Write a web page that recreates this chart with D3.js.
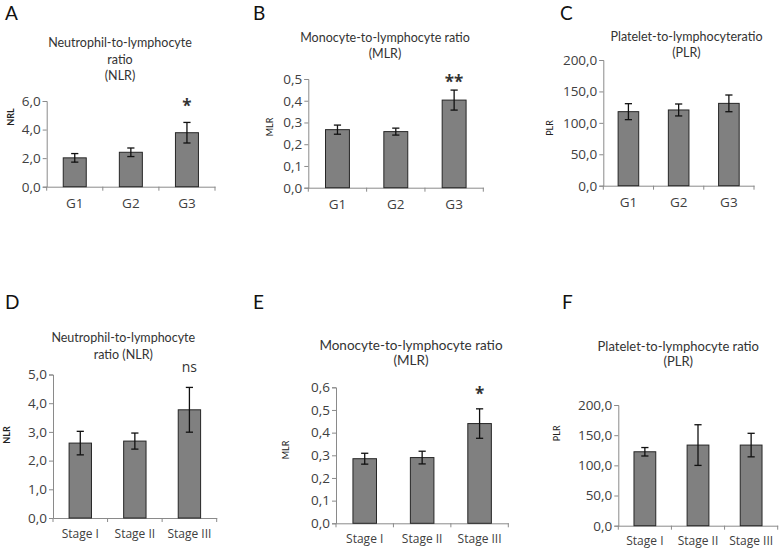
<!DOCTYPE html>
<html><head><meta charset="utf-8">
<script src="https://cdn.jsdelivr.net/npm/d3@7"></script>
<style>
html,body{margin:0;padding:0;background:#fff;}
svg{display:block;font-family:Lato,"Open Sans",sans-serif;}
</style></head>
<body><svg id="c" width="780" height="552"></svg>
<script>
// ---------- data ----------
const gGroups = ["G1", "G2", "G3"];
const stageGroups = ["Stage I", "Stage II", "Stage III"];

const nlrG = [2.02, 2.41, 3.78];
const nlrGErr = [0.30, 0.30, 0.72];
const mlrG = [0.267, 0.258, 0.403];
const mlrGErr = [0.021, 0.016, 0.046];
const plrG = [117.8, 120.5, 131.0];
const plrGErr = [12.7, 9.5, 13.3];

const nlrS = [2.61, 2.68, 3.77];
const nlrSErr = [0.41, 0.28, 0.78];
const mlrS = [0.285, 0.290, 0.440];
const mlrSErr = [0.024, 0.028, 0.065];
const plrS = [122.5, 133.6, 133.6];
const plrSErr = [7.0, 33.7, 19.5];

const nlrGTicks = [0, 2, 4, 6];
const mlrGTicks = [0, 0.1, 0.2, 0.3, 0.4, 0.5];
const plrTicks = [0, 50, 100, 150, 200];
const nlrSTicks = [0, 1, 2, 3, 4, 5];
const mlrSTicks = [0, 0.1, 0.2, 0.3, 0.4, 0.5, 0.6];

const annotG = ["*", "**", ""];          // NLR, MLR, PLR (groups, on G3)
const annotS = ["ns", "*", ""];          // NLR, MLR, PLR (stages, on Stage III)

// ---------- layout ----------
const panels = [
  {letter:"A", lx:5, ly:20, title:["Neutrophil-to-lymphocyte","ratio","(NLR)"], tx:120, ty:[47,64,80], tfs:12.5,
   ylab:"NRL", ylx:10, yly:117, ylbold:true,
   cats:gGroups, vals:nlrG, errs:nlrGErr, ticks:nlrGTicks, max:6,
   x0:46.7, x1:215, y0:186.7, y1:101, annot:annotG[0], annotAt:5.23, afs:17, abold:true},
  {letter:"B", lx:253, ly:20, title:["Monocyte-to-lymphocyte ratio","(MLR)"], tx:385, ty:[42,58], tfs:12.5,
   ylab:"MLR", ylx:269.3, yly:127, ylbold:false,
   cats:gGroups, vals:mlrG, errs:mlrGErr, ticks:mlrGTicks, max:0.5,
   x0:308.3, x1:483.3, y0:187.7, y1:79, annot:annotG[1], annotAt:0.459, afs:17, abold:true},
  {letter:"C", lx:560, ly:20, title:["Platelet-to-lymphocyteratio","(PLR)"], tx:686.5, ty:[41,57], tfs:12.5,
   ylab:"PLR", ylx:549.3, yly:128, ylbold:false,
   cats:gGroups, vals:plrG, errs:plrGErr, ticks:plrTicks, max:200,
   x0:603.3, x1:754, y0:185.7, y1:60, annot:annotG[2], annotAt:0, afs:17, abold:false},
  {letter:"D", lx:5, ly:309, title:["Neutrophil-to-lymphocyte","ratio (NLR)"], tx:123.3, ty:[342,359], tfs:12.5,
   ylab:"NLR", ylx:6.7, yly:435, ylbold:true,
   cats:stageGroups, vals:nlrS, errs:nlrSErr, ticks:nlrSTicks, max:5,
   x0:53, x1:216.7, y0:518, y1:374.5, annot:annotS[0], annotAt:5.07, afs:14, abold:false},
  {letter:"E", lx:253, ly:309, title:["Monocyte-to-lymphocyte ratio","(MLR)"], tx:411, ty:[350,365], tfs:13.5,
   ylab:"MLR", ylx:285, yly:450, ylbold:false,
   cats:stageGroups, vals:mlrS, errs:mlrSErr, ticks:mlrSTicks, max:0.6,
   x0:336, x1:508.3, y0:523.3, y1:387.3, annot:annotS[1], annotAt:0.544, afs:17, abold:true},
  {letter:"F", lx:562, ly:309, title:["Platelet-to-lymphocyte ratio","(PLR)"], tx:678.3, ty:[351,366], tfs:13,
   ylab:"PLR", ylx:556.7, yly:433.3, ylbold:false,
   cats:stageGroups, vals:plrS, errs:plrSErr, ticks:plrTicks, max:200,
   x0:618.3, x1:777.7, y0:525.7, y1:405, annot:annotS[2], annotAt:0, afs:17, abold:false}
];

const loc = d3.formatLocale({decimal:",", thousands:".", grouping:[3], currency:["",""]});
const fmt = loc.format(".1f");

const svg = d3.select("#c");
const axisColor = "#8a8a8a", textColor = "#404040";
const tickFont = "'Open Sans', Lato, sans-serif";

panels.forEach(p => {
  const g = svg.append("g");
  const x = d3.scaleBand().domain(p.cats).range([p.x0, p.x1]).padding(0);
  const y = d3.scaleLinear().domain([0, p.max]).range([p.y0, p.y1]);
  const bw = x.bandwidth() * 0.41;

  // panel letter
  g.append("text").attr("x", p.lx).attr("y", p.ly).attr("font-size", 19)
    .attr("fill", "#111").text(p.letter);

  // title
  p.title.forEach((t, i) => {
    g.append("text").attr("x", p.tx).attr("y", p.ty[i]).attr("text-anchor", "middle")
      .attr("font-size", p.tfs).attr("fill", "#333").text(t);
  });

  // y axis
  const ya = g.append("g").attr("transform", `translate(${p.x0},0)`)
    .call(d3.axisLeft(y).tickValues(p.ticks).tickFormat(fmt).tickSize(4).tickPadding(2));
  ya.select(".domain").attr("stroke", axisColor);
  ya.selectAll(".tick line").attr("stroke", axisColor);
  ya.selectAll(".tick text").attr("fill", textColor).attr("font-size", 13.5)
    .attr("font-family", tickFont);

  // x axis: labels at band centers, ticks at band boundaries
  const isStage = p.cats[0].length > 3;
  const xa = g.append("g").attr("transform", `translate(0,${p.y0})`)
    .call(d3.axisBottom(x).tickSize(0).tickPadding(isStage ? 11 : 12));
  xa.select(".domain").attr("stroke", axisColor);
  xa.selectAll(".tick text").attr("fill", textColor)
    .attr("font-size", isStage ? 12 : 13.5)
    .attr("font-family", tickFont);
  const bounds = p.cats.map(c => x(c)).concat([x(p.cats[p.cats.length - 1]) + x.bandwidth()]);
  g.selectAll(".xb").data(bounds).join("line")
    .attr("x1", d => d).attr("x2", d => d).attr("y1", p.y0).attr("y2", p.y0 + 4)
    .attr("stroke", axisColor);

  // bars
  const data = p.cats.map((c, i) => ({c, v: p.vals[i], e: p.errs[i]}));
  g.selectAll(".bar").data(data).join("rect")
    .attr("x", d => x(d.c) + x.bandwidth() / 2 - bw / 2)
    .attr("width", bw)
    .attr("y", d => y(d.v))
    .attr("height", d => y(0) - y(d.v))
    .attr("fill", "#808080").attr("stroke", "#262626").attr("stroke-width", 1);

  // error bars
  const cap = 3.6;
  const eg = g.selectAll(".err").data(data).join("g");
  eg.append("line")
    .attr("x1", d => x(d.c) + x.bandwidth() / 2).attr("x2", d => x(d.c) + x.bandwidth() / 2)
    .attr("y1", d => y(d.v + d.e)).attr("y2", d => y(d.v - d.e));
  eg.append("line")
    .attr("x1", d => x(d.c) + x.bandwidth() / 2 - cap).attr("x2", d => x(d.c) + x.bandwidth() / 2 + cap)
    .attr("y1", d => y(d.v + d.e)).attr("y2", d => y(d.v + d.e));
  eg.append("line")
    .attr("x1", d => x(d.c) + x.bandwidth() / 2 - cap).attr("x2", d => x(d.c) + x.bandwidth() / 2 + cap)
    .attr("y1", d => y(d.v - d.e)).attr("y2", d => y(d.v - d.e));
  eg.selectAll("line").attr("stroke", "#111").attr("stroke-width", 1.3);

  // significance annotation on last bar
  if (p.annot) {
    const last = p.cats[p.cats.length - 1];
    g.append("text").attr("x", x(last) + x.bandwidth() / 2).attr("y", y(p.annotAt))
      .attr("text-anchor", "middle").attr("font-size", p.afs)
      .attr("font-weight", p.abold ? "bold" : "normal")
      .attr("font-family", tickFont).attr("fill", "#333")
      .text(p.annot);
  }

  // y label
  g.append("text").attr("transform", `translate(${p.ylx},${p.yly}) rotate(-90)`)
    .attr("text-anchor", "middle").attr("dominant-baseline", "central")
    .attr("font-size", 9).attr("font-weight", p.ylbold ? "bold" : "normal")
    .attr("fill", "#222").text(p.ylab);
});
</script>
</body></html>
